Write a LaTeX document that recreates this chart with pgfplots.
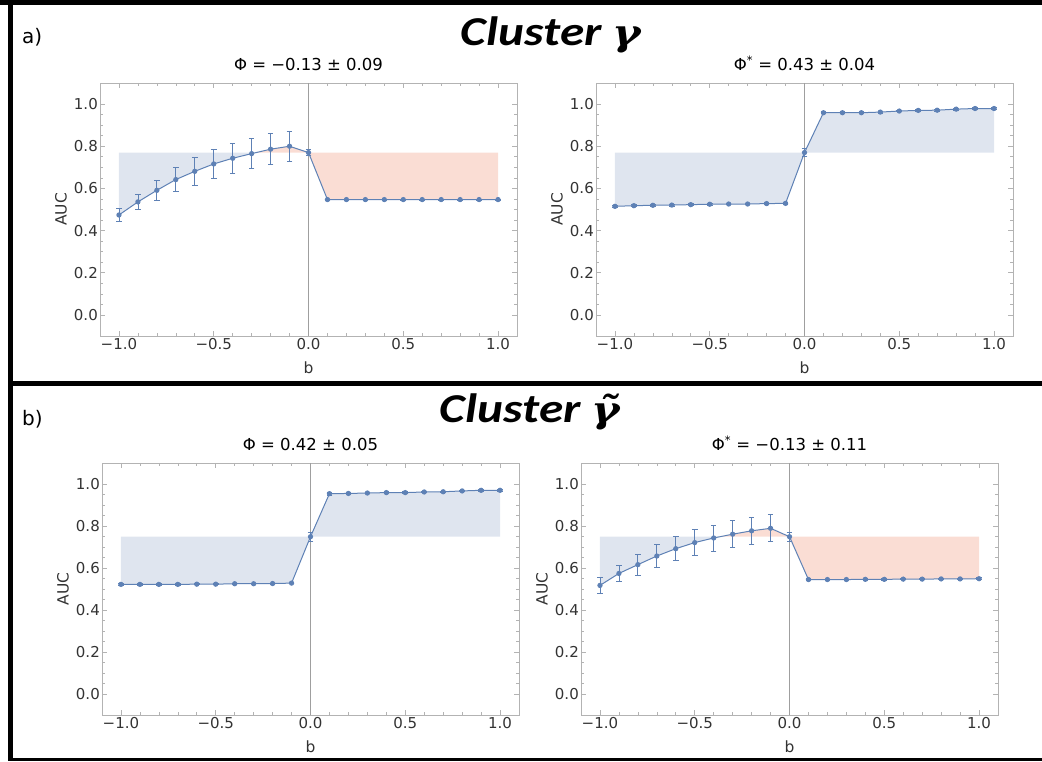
\documentclass[border=0pt]{standalone}
\usepackage{pgfplots}
\pgfplotsset{compat=1.18}
\usepackage{pgfplotstable}
\usepackage{graphicx}
\usepackage{fontspec}
\setmainfont{DejaVu Sans}
\newfontfamily\clusterfont{Carlito}
\newfontfamily\gammafont{DejaVu Serif}
\definecolor{mline}{HTML}{5E81B5}
\definecolor{bfill}{HTML}{DFE5EF}
\definecolor{rfill}{HTML}{FADDD4}
\definecolor{framec}{HTML}{B3B3B3}
\definecolor{tickc}{HTML}{333333}
\pgfplotsset{
 myax/.style={
  scale only axis, width=417pt, height=253pt,
  xmin=-1.1,xmax=1.1,ymin=-0.1,ymax=1.1,
  xtick={-1,-0.5,0,0.5,1}, xticklabels={−1.0,−0.5,0.0,0.5,1.0},
  ytick={0,0.2,0.4,0.6,0.8,1}, yticklabels={0.0,0.2,0.4,0.6,0.8,1.0},
  minor x tick num=4, minor y tick num=3,
  tick align=inside, major tick length=5pt, minor tick length=3pt,
  axis line style={framec, line width=0.9pt},
  tick style={framec, line width=0.6pt},
  ticklabel style={font=\fontsize{15}{18}\selectfont, text=tickc},
  xticklabel style={inner sep=2pt}, yticklabel style={inner sep=2pt},
  xlabel={b}, ylabel={AUC},
  every axis x label/.style={at={(axis description cs:0.5,-0.1265)}, anchor=center, font=\fontsize{15.5}{18}\selectfont, text=tickc},
  every axis y label/.style={at={(axis description cs:-0.0935,0.5)}, anchor=center, rotate=90, font=\fontsize{15.5}{18}\selectfont, text=tickc},
  title style={at={(0.5,1)}, anchor=base, yshift=6pt, font=\fontsize{16.5}{20}\selectfont, inner sep=0pt},
 },
 dline/.style={mline, line width=1pt, mark=*, mark size=2.1pt, mark options={fill=mline, draw=mline, solid},
   error bars/.cd, y dir=both, y explicit,
   error bar style={mline, line width=0.8pt},
   error mark options={rotate=90, mline, mark size=2.8pt, line width=0.8pt}},
 zline/.style={gray!75, line width=0.8pt},
}
\newcommand\clfont{\clusterfont\bfseries\itshape\fontsize{41}{41}\selectfont}
\newcommand\gmfont{\gammafont\bfseries\itshape\fontsize{36}{36}\selectfont}
\pgfplotstableread{
x y e
-1.0 0.474 0.030
-0.9 0.536 0.035
-0.8 0.591 0.048
-0.7 0.642 0.058
-0.6 0.681 0.066
-0.5 0.716 0.069
-0.4 0.743 0.070
-0.3 0.765 0.071
-0.2 0.786 0.073
-0.1 0.800 0.072
0.0 0.770 0.015
0.1 0.547 0.003
0.2 0.547 0.003
0.3 0.547 0.003
0.4 0.547 0.003
0.5 0.547 0.003
0.6 0.547 0.003
0.7 0.547 0.003
0.8 0.547 0.003
0.9 0.547 0.003
1.0 0.547 0.003
}\dataA
\pgfplotstableread{
x y e
-1.0 0.515 0.004
-0.9 0.518 0.004
-0.8 0.520 0.004
-0.7 0.521 0.004
-0.6 0.523 0.004
-0.5 0.525 0.004
-0.4 0.526 0.004
-0.3 0.526 0.004
-0.2 0.528 0.004
-0.1 0.529 0.004
0.0 0.770 0.018
0.1 0.959 0.005
0.2 0.959 0.004
0.3 0.959 0.004
0.4 0.962 0.004
0.5 0.967 0.004
0.6 0.970 0.004
0.7 0.971 0.004
0.8 0.976 0.004
0.9 0.979 0.004
1.0 0.979 0.004
}\dataB
\pgfplotstableread{
x y e
-1.0 0.522 0.003
-0.9 0.522 0.003
-0.8 0.522 0.003
-0.7 0.522 0.003
-0.6 0.523 0.003
-0.5 0.523 0.003
-0.4 0.525 0.003
-0.3 0.525 0.003
-0.2 0.526 0.003
-0.1 0.528 0.003
0.0 0.749 0.022
0.1 0.954 0.008
0.2 0.955 0.005
0.3 0.957 0.004
0.4 0.959 0.004
0.5 0.959 0.004
0.6 0.962 0.004
0.7 0.963 0.004
0.8 0.967 0.004
0.9 0.970 0.004
1.0 0.970 0.004
}\dataC
\pgfplotstableread{
x y e
-1.0 0.517 0.038
-0.9 0.574 0.039
-0.8 0.616 0.049
-0.7 0.657 0.056
-0.6 0.692 0.058
-0.5 0.721 0.062
-0.4 0.743 0.062
-0.3 0.761 0.064
-0.2 0.777 0.064
-0.1 0.789 0.064
0.0 0.749 0.022
0.1 0.545 0.004
0.2 0.545 0.003
0.3 0.545 0.003
0.4 0.546 0.003
0.5 0.546 0.003
0.6 0.547 0.003
0.7 0.547 0.003
0.8 0.548 0.003
0.9 0.548 0.003
1.0 0.549 0.004
}\dataD
\begin{document}
\begin{tikzpicture}
\path[use as bounding box] (0,0) rectangle (1042pt,761pt);
% panel frames
\draw[line width=5pt] (0,758.5pt) -- (1042pt,758.5pt);
\draw[line width=5pt] (10.5pt,761pt) -- (10.5pt,0pt);
\draw[line width=5pt] (8pt,377pt) -- (1042pt,377pt);
\draw[line width=3pt] (8pt,1.5pt) -- (1042pt,1.5pt);
% headings
\node[anchor=base west, inner sep=0pt] at (22pt,717pt) {\fontsize{20}{24}\selectfont a)};
\node[anchor=base, inner sep=0pt] at (551pt,715pt) {\scalebox{1.2}[1]{\clfont Cluster \gmfont γ}};
\node[anchor=base west, inner sep=0pt] at (22pt,335pt) {\fontsize{20}{24}\selectfont b)};
\node[anchor=base, inner sep=0pt] at (530pt,338pt) {\scalebox{1.2}[1]{\clfont Cluster \gmfont γ̃}};

% ---- a) left
\begin{axis}[myax, at={(100pt,425pt)}, anchor=south west, title={Φ = −0.13 ± 0.09}]
\addplot[fill=bfill, draw=none] coordinates {(-1,0.770) (-1,0.474) (-0.9,0.536) (-0.8,0.591) (-0.7,0.642) (-0.6,0.681) (-0.5,0.716) (-0.4,0.743) (-0.3,0.765) (-0.276,0.770)} -- cycle;
\addplot[fill=rfill, draw=none] coordinates {(-0.276,0.770) (-0.2,0.786) (-0.1,0.800) (0,0.770)} -- cycle;
\addplot[fill=rfill, draw=none] coordinates {(0,0.770) (0.1,0.547) (1,0.547) (1,0.770)} -- cycle;
\addplot[zline] coordinates {(0,-0.1) (0,1.1)};
\addplot[dline] table[x=x,y=y,y error=e] {\dataA};
\end{axis}

% ---- a) right
\begin{axis}[myax, at={(596pt,425pt)}, anchor=south west, title={Φ\textsuperscript{*} = 0.43 ± 0.04}]
\addplot[fill=bfill, draw=none] coordinates {(-1,0.770) (-1,0.515) (-0.9,0.518) (-0.8,0.520) (-0.7,0.521) (-0.6,0.523) (-0.5,0.525) (-0.4,0.526) (-0.3,0.526) (-0.2,0.528) (-0.1,0.529) (0,0.770)} -- cycle;
\addplot[fill=bfill, draw=none] coordinates {(0,0.770) (0.1,0.959) (0.2,0.959) (0.3,0.959) (0.4,0.962) (0.5,0.967) (0.6,0.970) (0.7,0.971) (0.8,0.976) (0.9,0.979) (1,0.979) (1,0.770)} -- cycle;
\addplot[zline] coordinates {(0,-0.1) (0,1.1)};
\addplot[dline] table[x=x,y=y,y error=e] {\dataB};
\end{axis}

% ---- b) left
\begin{axis}[myax, height=252pt, at={(102pt,46pt)}, anchor=south west, title={Φ = 0.42 ± 0.05}]
\addplot[fill=bfill, draw=none] coordinates {(-1,0.749) (-1,0.522) (-0.6,0.523) (-0.4,0.525) (-0.2,0.526) (-0.1,0.528) (0,0.749)} -- cycle;
\addplot[fill=bfill, draw=none] coordinates {(0,0.749) (0.1,0.954) (0.2,0.955) (0.3,0.957) (0.4,0.959) (0.5,0.959) (0.6,0.962) (0.7,0.963) (0.8,0.967) (0.9,0.970) (1,0.970) (1,0.749)} -- cycle;
\addplot[zline] coordinates {(0,-0.1) (0,1.1)};
\addplot[dline] table[x=x,y=y,y error=e] {\dataC};
\end{axis}

% ---- b) right
\begin{axis}[myax, height=252pt, at={(581pt,46pt)}, anchor=south west, title={Φ\textsuperscript{*} = −0.13 ± 0.11}]
\addplot[fill=bfill, draw=none] coordinates {(-1,0.749) (-1,0.517) (-0.9,0.574) (-0.8,0.616) (-0.7,0.657) (-0.6,0.692) (-0.5,0.721) (-0.4,0.743) (-0.367,0.749)} -- cycle;
\addplot[fill=rfill, draw=none] coordinates {(-0.367,0.749) (-0.3,0.761) (-0.2,0.777) (-0.1,0.789) (0,0.749)} -- cycle;
\addplot[fill=rfill, draw=none] coordinates {(0,0.749) (0.1,0.545) (0.4,0.546) (0.6,0.547) (0.8,0.548) (1,0.549) (1,0.749)} -- cycle;
\addplot[zline] coordinates {(0,-0.1) (0,1.1)};
\addplot[dline] table[x=x,y=y,y error=e] {\dataD};
\end{axis}
\end{tikzpicture}
\end{document}
